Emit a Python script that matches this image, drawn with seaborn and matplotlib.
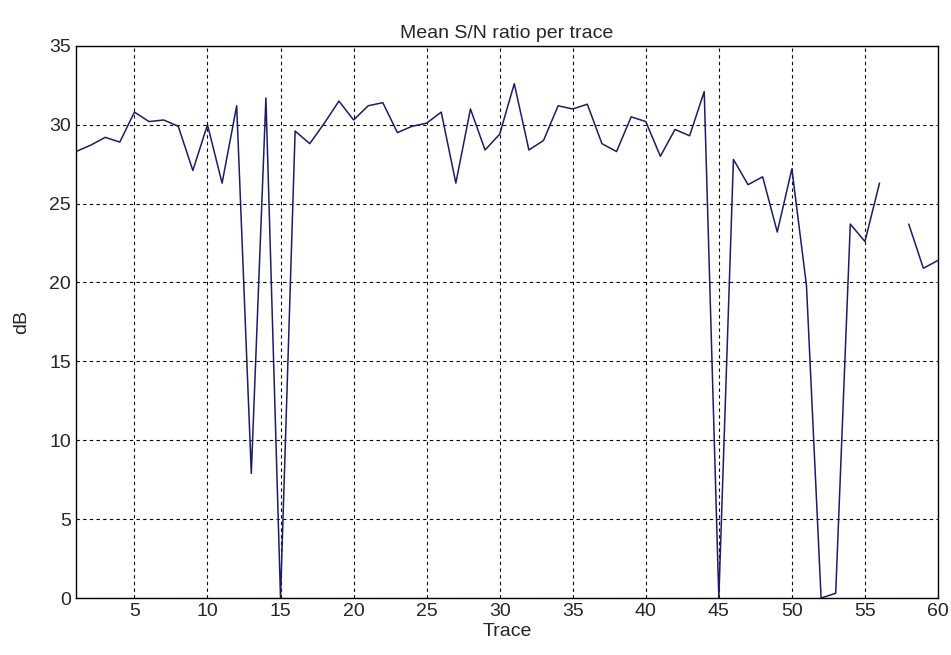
import numpy as np
import pandas as pd
import matplotlib
matplotlib.use("Agg")
import matplotlib.pyplot as plt
import seaborn as sns

sns.set_theme(style="white")
plt.rcParams['font.family'] = ['Liberation Sans', 'DejaVu Sans']

# values (trace 57 missing)
traces = list(range(1, 61))
snr_db = [28.3, 28.7, 29.2, 28.9, 30.8, 30.2, 30.3, 29.9, 27.1, 30.0,
          26.3, 31.2, 7.9, 31.7, 0.0, 29.6, 28.8, 30.1, 31.5, 30.3,
          31.2, 31.4, 29.5, 29.9, 30.1, 30.8, 26.3, 31.0, 28.4, 29.4,
          32.6, 28.4, 29.0, 31.2, 31.0, 31.3, 28.8, 28.3, 30.5, 30.2,
          28.0, 29.7, 29.3, 32.1, 0.0, 27.8, 26.2, 26.7, 23.2, 27.2,
          19.8, 0.0, 0.3, 23.7, 22.6, 26.3, np.nan, 23.7, 20.9, 21.4]

x_ticks = list(range(5, 61, 5))
y_ticks = list(range(0, 36, 5))

df = pd.DataFrame({"trace": traces, "snr": snr_db})
# split at the gap so the line is not bridged
df["segment"] = df["snr"].isna().cumsum()
df = df.dropna()

fig = plt.figure(figsize=(9.51, 6.55), dpi=100)
ax = fig.add_axes([0.0799, 0.087, 0.9064, 0.843])

sns.lineplot(data=df, x="trace", y="snr", units="segment", estimator=None,
             color="#1c1c6b", linewidth=1.1, ax=ax)

ax.set_xlim(1, 60)
ax.set_ylim(0, 35)
ax.set_xticks(x_ticks)
ax.set_yticks(y_ticks)
ax.grid(True, color="black", linestyle=(0, (3, 3)), linewidth=0.8)
ax.tick_params(direction="in", length=5, labelsize=14, color="black", width=1)
for s in ax.spines.values():
    s.set_color("black")
    s.set_linewidth(1.0)

ax.set_title("Mean S/N ratio per trace", fontsize=14, pad=6)
ax.set_xlabel("Trace", fontsize=14, labelpad=2)
ax.set_ylabel("dB", fontsize=14, labelpad=14)

fig.savefig("out.png", dpi=100)
